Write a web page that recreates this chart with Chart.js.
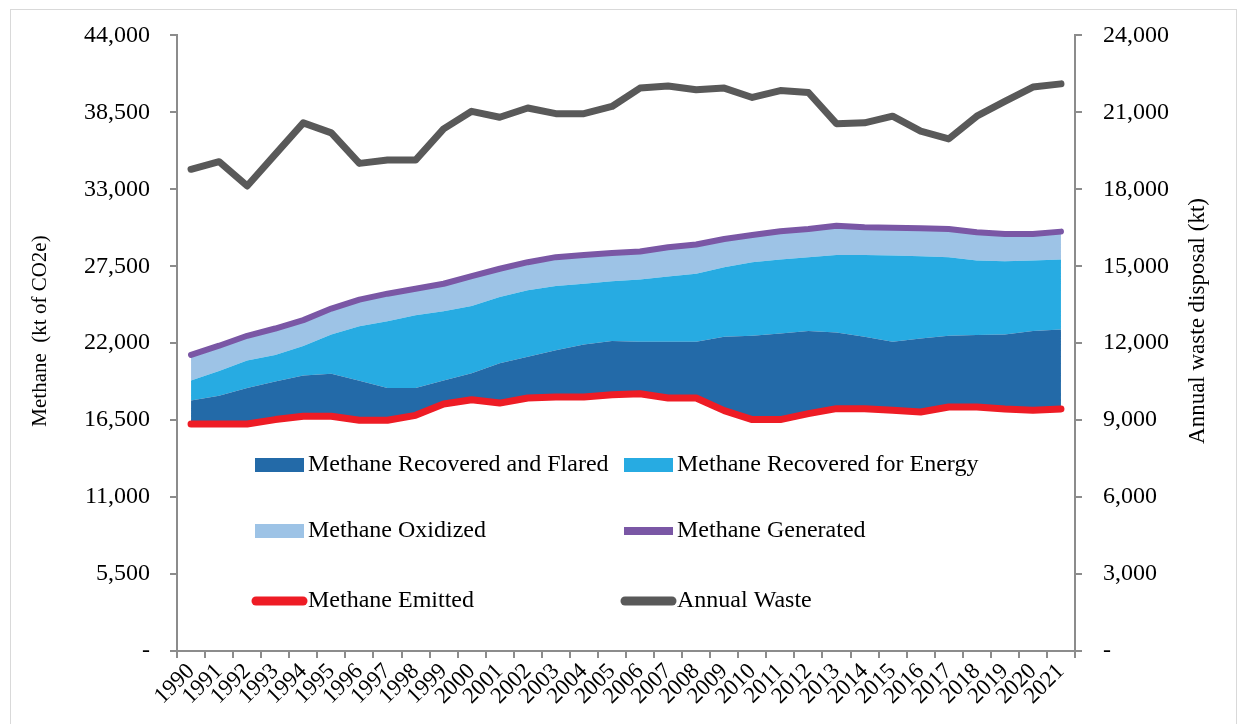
<!DOCTYPE html>
<html>
<head>
<meta charset="utf-8">
<script src="https://cdn.jsdelivr.net/npm/chart.js@4.4.1/dist/chart.umd.min.js"></script>
<style>
  html, body { margin: 0; padding: 0; background: #fff; }
  #wrap { width: 1242px; height: 724px; position: relative; }
</style>
</head>
<body>
<div id="wrap"><canvas id="c"></canvas></div>
<script>
const years = ['1990','1991','1992','1993','1994','1995','1996','1997','1998','1999','2000','2001','2002','2003','2004','2005','2006','2007','2008','2009','2010','2011','2012','2013','2014','2015','2016','2017','2018','2019','2020','2021'];

const methaneEmitted = [16230,16230,16230,16540,16775,16775,16490,16490,16845,17650,17960,17720,18080,18150,18150,18315,18390,18080,18080,17180,16540,16540,16965,17320,17320,17200,17080,17435,17435,17295,17200,17295];
const methaneFlared = [1680,2015,2560,2720,2915,3035,2820,2300,1945,1685,1890,2845,2960,3340,3765,3840,3715,4025,4025,5280,5990,6160,5900,5450,5140,4905,5260,5095,5145,5330,5665,5685];
const methaneEnergy = [1425,1775,1965,1900,2110,2815,3910,4785,5210,4950,4815,4740,4740,4595,4335,4265,4455,4670,4855,4975,5260,5285,5285,5540,5850,6160,5880,5620,5330,5240,5045,5005];
const methaneOxidized = [1825,1800,1775,1890,1850,1850,1895,1965,1895,1965,2135,2015,2010,2065,2060,2035,1990,2085,2090,2015,1945,2010,2010,2090,1970,1995,1990,2010,2015,1940,1895,1990];
const methaneGenerated = [21160,21820,22530,23050,23650,24475,25115,25540,25895,26250,26800,27320,27790,28150,28310,28455,28550,28860,29050,29450,29735,29995,30160,30400,30280,30260,30210,30160,29925,29805,29805,29975];
const annualWaste = [18780,19075,18130,19360,20590,20200,19010,19140,19140,20355,21040,20810,21170,20950,20950,21230,21945,22030,21880,21945,21580,21850,21775,20560,20590,20850,20265,19965,20850,21430,21985,22110];

const leftTickLabels = ['-','5,500','11,000','16,500','22,000','27,500','33,000','38,500','44,000'];
const rightTickLabels = ['-','3,000','6,000','9,000','12,000','15,000','18,000','21,000','24,000'];
const leftAxisTitle = 'Methane  (kt of CO2e)';
const rightAxisTitle = 'Annual waste disposal (kt)';

const FONT = "'Liberation Serif', 'Times New Roman', serif";
Chart.defaults.font.family = FONT;
Chart.defaults.font.size = 24;
Chart.defaults.color = '#000';

const AXIS = '#8c8c8c';

const frame = {
  id: 'frame',
  beforeDraw(chart) {
    const ctx = chart.ctx;
    ctx.save();
    ctx.strokeStyle = '#d9d9d9';
    ctx.lineWidth = 1;
    ctx.strokeRect(10.5, 9.5, 1226, 740);
    ctx.restore();
  }
};

const axisTitles = {
  id: 'axisTitles',
  afterDraw(chart) {
    const ctx = chart.ctx;
    const draw = (text, x, y, size) => {
      ctx.save();
      ctx.translate(x, y);
      ctx.rotate(-Math.PI / 2);
      ctx.fillStyle = '#000';
      ctx.font = size + 'px ' + FONT;
      ctx.textAlign = 'center';
      ctx.textBaseline = 'middle';
      ctx.fillText(text, 0, 0);
      ctx.restore();
    };
    draw(leftAxisTitle, 40, 331, 21);
    draw(rightAxisTitle, 1198, 321, 23);
  }
};

const customLegend = {
  id: 'customLegend',
  afterDraw(chart) {
    const ctx = chart.ctx;
    const ds = chart.data.datasets;
    const items = [
      {i: 1, x: 255, y: 465, kind: 'box'},
      {i: 2, x: 624, y: 465, kind: 'box'},
      {i: 3, x: 255, y: 531, kind: 'box'},
      {i: 4, x: 624, y: 531, kind: 'bar'},
      {i: 0, x: 255, y: 601, kind: 'line'},
      {i: 5, x: 624, y: 601, kind: 'line'}
    ];
    ctx.save();
    items.forEach(it => {
      const d = ds[it.i];
      if (it.kind === 'box') {
        ctx.fillStyle = d.backgroundColor;
        ctx.fillRect(it.x, it.y - 7, 49, 14);
      } else if (it.kind === 'bar') {
        ctx.strokeStyle = d.borderColor;
        ctx.lineWidth = 8;
        ctx.lineCap = 'butt';
        ctx.beginPath(); ctx.moveTo(it.x, it.y); ctx.lineTo(it.x + 49, it.y); ctx.stroke();
      } else {
        ctx.strokeStyle = d.borderColor;
        ctx.lineWidth = 9;
        ctx.lineCap = 'round';
        ctx.beginPath(); ctx.moveTo(it.x + 1, it.y); ctx.lineTo(it.x + 48, it.y); ctx.stroke();
      }
      ctx.fillStyle = '#000';
      ctx.font = '24px ' + FONT;
      ctx.textBaseline = 'middle';
      ctx.textAlign = 'left';
      ctx.fillText(d.label, it.x + 53, it.y);
    });
    ctx.restore();
  }
};

const lineCommon = { pointRadius: 0, borderJoinStyle: 'round', borderCapStyle: 'round', tension: 0, fill: false };

new Chart(document.getElementById('c'), {
  type: 'line',
  data: {
    labels: years,
    datasets: [
      Object.assign({ label: 'Methane Emitted', data: methaneEmitted, borderColor: '#ee1c25', backgroundColor: '#ee1c25', borderWidth: 7, stack: 'm', order: 0, yAxisID: 'y' }, lineCommon),
      { label: 'Methane Recovered and Flared', data: methaneFlared, backgroundColor: '#236aa8', borderColor: '#236aa8', borderWidth: 0, pointRadius: 0, fill: '-1', stack: 'm', order: 10, yAxisID: 'y' },
      { label: 'Methane Recovered for Energy', data: methaneEnergy, backgroundColor: '#27abe2', borderColor: '#27abe2', borderWidth: 0, pointRadius: 0, fill: '-1', stack: 'm', order: 10, yAxisID: 'y' },
      { label: 'Methane Oxidized', data: methaneOxidized, backgroundColor: '#9dc3e6', borderColor: '#9dc3e6', borderWidth: 0, pointRadius: 0, fill: '-1', stack: 'm', order: 10, yAxisID: 'y' },
      Object.assign({ label: 'Methane Generated', data: methaneGenerated, borderColor: '#7a57a5', backgroundColor: '#7a57a5', borderWidth: 6, stack: 'g', order: 0, yAxisID: 'y' }, lineCommon),
      Object.assign({ label: 'Annual Waste', data: annualWaste, borderColor: '#595959', backgroundColor: '#595959', borderWidth: 7, stack: 'w', order: 0, yAxisID: 'y2' }, lineCommon)
    ]
  },
  options: {
    responsive: true,
    maintainAspectRatio: false,
    animation: false,
    layout: { padding: { top: 32, left: 0, right: 0, bottom: 0 } },
    plugins: { legend: { display: false }, tooltip: { enabled: false } },
    scales: {
      x: {
        type: 'category',
        offset: true,
        grid: { offset: true, drawOnChartArea: false, color: AXIS, lineWidth: 2, tickLength: 7 },
        border: { color: AXIS, width: 2 },
        ticks: { autoSkip: false, maxRotation: 45, minRotation: 45, padding: 0, font: { size: 23 } },
        afterFit: s => { s.height = 73; }
      },
      y: {
        position: 'left',
        stacked: true,
        min: 0, max: 44000,
        grid: { drawOnChartArea: false, color: AXIS, lineWidth: 2, tickLength: 7 },
        border: { color: AXIS, width: 2 },
        ticks: { stepSize: 5500, padding: 20, callback: v => leftTickLabels[Math.round(v / 5500)] },
        title: { display: false, text: leftAxisTitle },
        afterFit: s => { s.width = 177; }
      },
      y2: {
        position: 'right',
        min: 0, max: 24000,
        grid: { drawOnChartArea: false, color: AXIS, lineWidth: 2, tickLength: 7 },
        border: { color: AXIS, width: 2 },
        ticks: { stepSize: 3000, padding: 21, callback: v => rightTickLabels[Math.round(v / 3000)] },
        title: { display: false, text: rightAxisTitle },
        afterFit: s => { s.width = 167; }
      }
    }
  },
  plugins: [frame, axisTitles, customLegend]
});
</script>
</body>
</html>
